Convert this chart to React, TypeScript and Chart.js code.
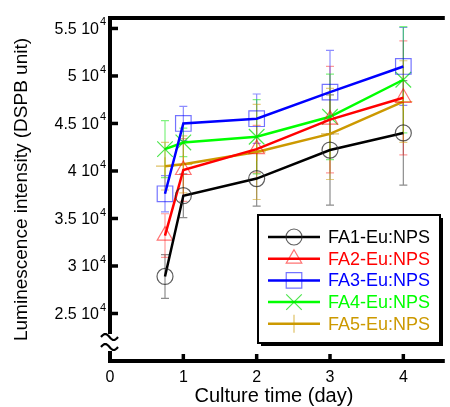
import React, { useEffect, useRef } from 'react';
import { Chart, registerables } from 'chart.js';

Chart.register(...registerables);

// ---- data ----
const days = [0.75, 1, 2, 3, 4];
const seriesNames = ['FA1-Eu:NPS', 'FA2-Eu:NPS', 'FA3-Eu:NPS', 'FA4-Eu:NPS', 'FA5-Eu:NPS'];
const fa1 = [28900, 37400, 39200, 42200, 44000];
const fa2 = [33200, 40100, 42300, 45400, 47700];
const fa3 = [37600, 45000, 45500, 48300, 51000];
const fa4 = [42300, 43000, 43600, 45700, 49600];
const fa5 = [40500, 40700, 42000, 43900, 47300];
const fa1Err = [2300, 2300, 2900, 5800, 5500];
const fa2Err = [2300, 3300, 2500, 5600, 6000];
const fa3Err = [1900, 1800, 2600, 4400, 4100];
const fa4Err = [3000, 1500, 3900, 4500, 5600];
const fa5Err = [2500, 3000, 5000, 4800, 4300];
const yTicks = [25000, 30000, 35000, 40000, 45000, 50000, 55000];
const xTicks = [0, 1, 2, 3, 4];

const seriesValues = [fa1, fa2, fa3, fa4, fa5];
const seriesErrors = [fa1Err, fa2Err, fa3Err, fa4Err, fa5Err];

// ---- styles ----
const lineColors = ['#000000', '#ff0000', '#0000ff', '#00ff00', '#cc9900'];
const markerColors = ['rgba(40,40,40,0.75)', 'rgba(255,0,0,0.55)', 'rgba(0,0,255,0.55)', 'rgba(0,220,0,0.7)', 'rgba(204,153,0,0.6)'];
const errColors = ['rgba(0,0,0,0.45)', 'rgba(255,0,0,0.4)', 'rgba(0,0,255,0.45)', 'rgba(0,230,0,0.5)', 'rgba(204,153,0,0.5)'];
const pointStyles = ['circle', 'triangle', 'rect', 'crossRot', 'cross'];
const pointRadii = [8, 9, 11, 11, 9];
const FONT = '"Liberation Sans", Arial, sans-serif';

function drawMarker(ctx: CanvasRenderingContext2D, style: string, x: number, y: number, r: number) {
  ctx.beginPath();
  if (style === 'circle') {
    ctx.arc(x, y, r, 0, Math.PI * 2);
  } else if (style === 'triangle') {
    for (let k = 0; k < 3; k++) {
      const a = (k * 2 * Math.PI) / 3;
      const px = x + Math.sin(a) * r;
      const py = y - Math.cos(a) * r;
      if (k === 0) ctx.moveTo(px, py); else ctx.lineTo(px, py);
    }
    ctx.closePath();
  } else if (style === 'rect') {
    const s = Math.SQRT1_2 * r;
    ctx.rect(x - s, y - s, 2 * s, 2 * s);
  } else if (style === 'crossRot') {
    const s = Math.SQRT1_2 * r;
    ctx.moveTo(x - s, y - s); ctx.lineTo(x + s, y + s);
    ctx.moveTo(x - s, y + s); ctx.lineTo(x + s, y - s);
  } else {
    ctx.moveTo(x, y - r); ctx.lineTo(x, y + r);
    ctx.moveTo(x - r, y); ctx.lineTo(x + r, y);
  }
  ctx.stroke();
}

const errorBarPlugin = {
  id: 'errorBars',
  beforeDatasetsDraw(chart: any) {
    const { ctx, scales } = chart;
    const xs = scales.x, ys = scales.y;
    ctx.save();
    ctx.lineWidth = 1.2;
    seriesValues.forEach((vals, i) => {
      ctx.strokeStyle = errColors[i];
      vals.forEach((v, j) => {
        const x = xs.getPixelForValue(days[j]);
        const yt = ys.getPixelForValue(v + seriesErrors[i][j]);
        const yb = ys.getPixelForValue(v - seriesErrors[i][j]);
        ctx.beginPath();
        ctx.moveTo(x, yt); ctx.lineTo(x, yb);
        ctx.moveTo(x - 4, yt); ctx.lineTo(x + 4, yt);
        ctx.moveTo(x - 4, yb); ctx.lineTo(x + 4, yb);
        ctx.stroke();
      });
    });
    ctx.restore();
  },
};

const framePlugin = {
  id: 'frame',
  afterDraw(chart: any) {
    const { ctx, chartArea, scales } = chart;
    const { left, right, top, bottom } = chartArea;
    ctx.save();
    ctx.strokeStyle = '#000';
    ctx.lineWidth = 4;
    ctx.lineCap = 'square';
    ctx.beginPath();
    ctx.moveTo(right + 5, top); ctx.lineTo(left, top); ctx.lineTo(left, bottom); ctx.lineTo(right + 5, bottom);
    ctx.stroke();
    ctx.lineCap = 'butt';
    ctx.lineWidth = 3.5;
    // y tick marks and labels (mantissa + superscript exponent)
    yTicks.forEach((t) => {
      const y = scales.y.getPixelForValue(t);
      ctx.beginPath(); ctx.moveTo(left, y); ctx.lineTo(left + 8, y); ctx.stroke();
      ctx.fillStyle = '#000';
      ctx.textBaseline = 'middle';
      ctx.textAlign = 'right';
      ctx.font = `11px ${FONT}`;
      ctx.fillText('4', left - 4, y - 6);
      ctx.font = `16px ${FONT}`;
      ctx.fillText(`${t / 10000} 10`, left - 11, y + 1);
    });
    xTicks.forEach((t) => {
      if (t === 0) return;
      const x = scales.x.getPixelForValue(t);
      ctx.beginPath(); ctx.moveTo(x, bottom); ctx.lineTo(x, bottom - 7); ctx.stroke();
    });
    // axis break
    ctx.fillStyle = '#fff';
    ctx.fillRect(left - 3, bottom - 27, 7, 17);
    ctx.strokeStyle = '#000';
    ctx.lineWidth = 2.2;
    [bottom - 24, bottom - 14].forEach((yy) => {
      ctx.beginPath();
      for (let k = 0; k <= 20; k++) {
        const xx = left - 9 + (k / 20) * 17;
        const py = yy - Math.sin((k / 20) * Math.PI * 2) * 3;
        if (k === 0) ctx.moveTo(xx, py); else ctx.lineTo(xx, py);
      }
      ctx.stroke();
    });
    ctx.restore();
  },
};

const legendPlugin = {
  id: 'customLegend',
  afterDraw(chart: any) {
    const { ctx } = chart;
    const bx = 258, by = 215, bw = 182, bh = 128;
    ctx.save();
    ctx.fillStyle = '#000';
    ctx.fillRect(bx + 3, by + 3, bw, bh);
    ctx.fillStyle = '#fff';
    ctx.fillRect(bx, by, bw, bh);
    ctx.strokeStyle = '#000';
    ctx.lineWidth = 2;
    ctx.strokeRect(bx, by, bw, bh);
    chart.data.datasets.forEach((ds: any, i: number) => {
      const y = 237 + i * 21.7;
      ctx.strokeStyle = ds.borderColor;
      ctx.lineWidth = 2.5;
      ctx.beginPath(); ctx.moveTo(268, y); ctx.lineTo(320, y); ctx.stroke();
      ctx.strokeStyle = ds.pointBorderColor;
      ctx.lineWidth = 1.2;
      drawMarker(ctx, ds.pointStyle, 294, y, ds.pointRadius);
      ctx.fillStyle = ds.borderColor;
      ctx.font = `18px ${FONT}`;
      ctx.textBaseline = 'middle';
      ctx.textAlign = 'left';
      ctx.fillText(ds.label, 328, y + 1);
    });
    ctx.restore();
  },
};

export default function App() {
  const ref = useRef<HTMLCanvasElement | null>(null);
  useEffect(() => {
    if (!ref.current) return;
    const datasets = seriesValues.map((vals, i) => ({
      label: seriesNames[i],
      data: vals.map((v, j) => ({ x: days[j], y: v })),
      borderColor: lineColors[i],
      borderWidth: 2.5,
      backgroundColor: 'rgba(0,0,0,0)',
      pointStyle: pointStyles[i],
      pointRadius: pointRadii[i],
      pointBorderColor: markerColors[i],
      pointBackgroundColor: 'rgba(0,0,0,0)',
      pointBorderWidth: 1.2,
      tension: 0,
      fill: false,
    }));
    const chart = new Chart(ref.current, {
      type: 'line',
      data: { datasets },
      options: {
        animation: false,
        responsive: false,
        maintainAspectRatio: false,
        layout: { padding: { top: 18, left: 0, right: 0, bottom: 0 } },
        plugins: { legend: { display: false }, tooltip: { enabled: false } },
        scales: {
          x: {
            type: 'linear',
            min: 0,
            max: 4.47,
            grid: { display: false, drawTicks: false },
            border: { display: false },
            afterBuildTicks: (s: any) => { s.ticks = xTicks.map((v) => ({ value: v })); },
            ticks: {
              padding: 7,
              color: '#000',
              font: { size: 16, family: FONT },
              maxRotation: 0,
              autoSkip: false,
            },
            title: {
              display: true,
              text: 'Culture time (day)',
              color: '#000',
              font: { size: 20, family: FONT },
              padding: { top: 0, bottom: -1 },
            },
            afterFit: (s: any) => { s.height = 46; },
          },
          y: {
            type: 'linear',
            min: 20000,
            max: 56100,
            grid: { display: false, drawTicks: false },
            border: { display: false },
            afterBuildTicks: (s: any) => { s.ticks = yTicks.map((v) => ({ value: v })); },
            ticks: {
              display: false,
              autoSkip: false,
            },
            title: {
              display: true,
              text: 'Luminescence intensity (DSPB unit)',
              color: '#000',
              font: { size: 19, family: FONT },
              padding: { top: 10, bottom: 0 },
            },
            afterFit: (s: any) => { s.width = 110; },
          },
        },
      },
      plugins: [errorBarPlugin, framePlugin, legendPlugin],
    });
    return () => chart.destroy();
  }, []);
  return (
    <div style={{ position: 'fixed', left: 0, top: 0, width: 450, height: 407, background: '#fff' }}>
      <canvas ref={ref} width={450} height={407} style={{ display: 'block' }} />
    </div>
  );
}
